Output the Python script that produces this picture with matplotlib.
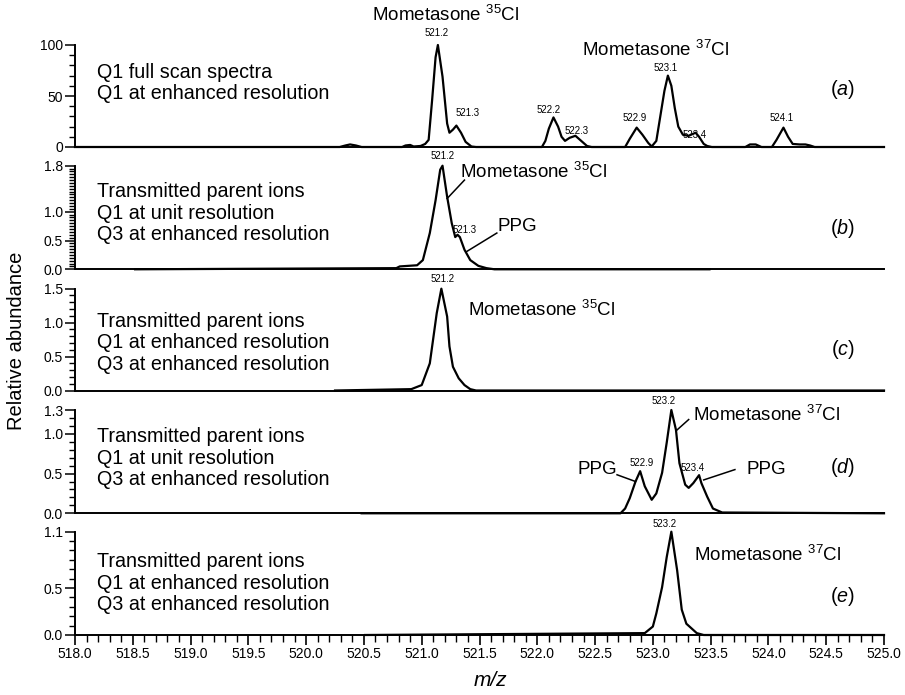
import matplotlib
matplotlib.use("Agg")
import matplotlib.pyplot as plt
from matplotlib.ticker import MultipleLocator, FixedLocator, FormatStrFormatter

plt.rcParams['font.family'] = ['Liberation Sans', 'DejaVu Sans']
plt.rcParams['mathtext.fontset'] = 'custom'
plt.rcParams['mathtext.rm'] = 'Liberation Sans'
plt.rcParams['mathtext.it'] = 'Liberation Sans:italic'

# ---------------- data (m/z, relative abundance) ----------------
mz_a = [518.00, 520.29, 520.34, 520.38, 520.43, 520.48, 520.83, 520.86, 520.90, 520.93, 520.99,
        521.03, 521.06, 521.09, 521.12, 521.14, 521.18, 521.22, 521.24, 521.27, 521.30, 521.34,
        521.38, 521.43, 521.47, 522.04, 522.07, 522.10, 522.14, 522.18, 522.21, 522.24, 522.28,
        522.33, 522.37, 522.43, 522.47, 522.76, 522.80, 522.86, 522.91, 522.96, 522.99, 523.03,
        523.06, 523.10, 523.13, 523.16, 523.19, 523.22, 523.26, 523.31, 523.37, 523.40, 523.44,
        523.47, 523.51, 523.80, 523.84, 523.89, 523.94, 524.03, 524.07, 524.13, 524.17, 524.21,
        524.27, 524.32, 524.36, 524.40, 525.00]
int_a = [0, 0, 1.5, 2.5, 1.5, 0, 0, 1.5, 2, 0.5, 1,
         3, 7, 46, 88, 100, 69, 23, 14, 17, 21, 14,
         5, 0.5, 0, 0, 6, 18, 29, 20, 10, 6, 9,
         11, 7, 1, 0, 0, 8, 19, 12, 4, 0.5, 6,
         27, 55, 70, 60, 38, 20, 12, 11, 14, 10, 3,
         1, 0, 0, 2.5, 2.5, 0, 0, 7, 19, 10, 3,
         2.5, 2.5, 1.5, 0, 0]

mz_b = [518.52, 520.78, 520.81, 520.96, 521.01, 521.07, 521.12, 521.16, 521.18, 521.22, 521.26,
        521.29, 521.31, 521.33, 521.37, 521.42, 521.49, 521.56, 521.63, 523.49]
int_b = [0, 0.02, 0.05, 0.07, 0.16, 0.63, 1.20, 1.73, 1.80, 1.26, 0.80,
         0.56, 0.60, 0.56, 0.34, 0.16, 0.06, 0.02, 0, 0]

mz_c = [520.25, 520.91, 521.00, 521.07, 521.13, 521.17, 521.22, 521.24, 521.27, 521.32, 521.37,
        521.42, 521.47, 525.00]
int_c = [0, 0.02, 0.08, 0.40, 1.14, 1.50, 1.09, 0.65, 0.35, 0.18, 0.08,
         0.02, 0, 0]

mz_d = [520.48, 522.72, 522.76, 522.80, 522.85, 522.89, 522.93, 522.99, 523.03, 523.08, 523.12,
        523.16, 523.20, 523.23, 523.28, 523.31, 523.35, 523.40, 523.42, 523.47, 523.52, 523.60,
        525.00]
int_d = [0, 0, 0.06, 0.19, 0.40, 0.53, 0.34, 0.17, 0.25, 0.51, 0.89,
         1.30, 1.05, 0.63, 0.36, 0.32, 0.38, 0.48, 0.38, 0.21, 0.06, 0.01,
         0]

mz_e = [520.51, 522.93, 523.00, 523.03, 523.08, 523.12, 523.16, 523.21, 523.25, 523.29, 523.38,
        523.44, 525.00]
int_e = [0, 0.02, 0.09, 0.23, 0.51, 0.83, 1.10, 0.69, 0.27, 0.12, 0.02,
         0, 0]

# peak labels: (text, m/z, abundance)
labels_a = [("521.2", 521.13, 111.8), ("521.3", 521.40, 33.3), ("522.2", 522.10, 36.3),
            ("522.3", 522.34, 16.0), ("522.9", 522.84, 28.4), ("523.1", 523.11, 77.5),
            ("523.4", 523.36, 11.8), ("524.1", 524.11, 28.4)]
labels_b = [("521.2", 521.18, 1.96), ("521.3", 521.37, 0.68)]
labels_c = [("521.2", 521.18, 1.64)]
labels_d = [("523.2", 523.09, 1.41), ("522.9", 522.90, 0.63), ("523.4", 523.34, 0.57)]
labels_e = [("523.2", 523.10, 1.18)]

desc = [["Q1 full scan spectra", "Q1 at enhanced resolution"],
        ["Transmitted parent ions", "Q1 at unit resolution", "Q3 at enhanced resolution"],
        ["Transmitted parent ions", "Q1 at enhanced resolution", "Q3 at enhanced resolution"],
        ["Transmitted parent ions", "Q1 at unit resolution", "Q3 at enhanced resolution"],
        ["Transmitted parent ions", "Q1 at enhanced resolution", "Q3 at enhanced resolution"]]
panel_tags = ["a", "b", "c", "d", "e"]
ymax = [100, 1.8, 1.5, 1.3, 1.1]
ymajor = [[0, 50, 100], [0.0, 0.5, 1.0, 1.8], [0.0, 0.5, 1.0, 1.5],
          [0.0, 0.5, 1.0, 1.3], [0.0, 0.5, 1.1]]
yminor = [10, 0.05, 0.1, 0.1, 0.1]
yfmt = ['%d', '%.1f', '%.1f', '%.1f', '%.1f']

# ---------------- layout ----------------
W, H = 905, 695
fig = plt.figure(figsize=(W / 100, H / 100), dpi=100)
left_px, right_px = 75, 884
panels_px = [(45, 147), (165.7, 269.3), (288.7, 390.5), (410, 513.3), (531.7, 635)]
desc_y = [0.627, 0.543, 0.467, 0.535, 0.503]
tag_y = [0.559, 0.389, 0.398, 0.448, 0.368]
FS_DESC = 14.2
FS_ANN = 13.5

series = [(mz_a, int_a, labels_a), (mz_b, int_b, labels_b), (mz_c, int_c, labels_c),
          (mz_d, int_d, labels_d), (mz_e, int_e, labels_e)]

axes = []
for i, ((top, bot), (mz, inten, labs)) in enumerate(zip(panels_px, series)):
    ax = fig.add_axes([left_px / W, 1 - bot / H, (right_px - left_px) / W, (bot - top) / H])
    axes.append(ax)
    ax.plot(mz, inten, color='black', lw=1.6, clip_on=False)
    ax.set_xlim(518.0, 525.0)
    ax.set_ylim(0, ymax[i])
    for s in ['top', 'right']:
        ax.spines[s].set_visible(False)
    for s in ['left', 'bottom']:
        ax.spines[s].set_linewidth(1.4)
    ax.yaxis.set_major_locator(FixedLocator(ymajor[i]))
    ax.yaxis.set_minor_locator(MultipleLocator(yminor[i]))
    ax.yaxis.set_major_formatter(FormatStrFormatter(yfmt[i]))
    ax.tick_params(axis='y', which='major', direction='out', length=7, width=1.1,
                   labelsize=10, pad=1.5)
    ax.tick_params(axis='y', which='minor', direction='out', length=4, width=1.0)
    if i < 4:
        ax.tick_params(axis='x', which='both', bottom=False, labelbottom=False)
    else:
        ax.xaxis.set_major_locator(MultipleLocator(0.5))
        ax.xaxis.set_minor_locator(MultipleLocator(0.1))
        ax.xaxis.set_major_formatter(FormatStrFormatter('%.1f'))
        ax.tick_params(axis='x', which='major', direction='out', length=7, width=1.2,
                       labelsize=10, pad=2)
        ax.tick_params(axis='x', which='minor', direction='out', length=5, width=1.0)
    ax.patch.set_alpha(0)
    for t, x, y in labs:
        ax.text(x, y, t, fontsize=7, ha='center', va='center', clip_on=False)
    ax.text(0.027, desc_y[i], "\n".join(desc[i]), transform=ax.transAxes,
            fontsize=FS_DESC, ha='left', va='center', linespacing=1.15)
    ax.text(0.949, tag_y[i], r"($\mathit{%s}$)" % panel_tags[i], transform=ax.transAxes,
            fontsize=FS_DESC, ha='center', va='center')

m35 = r"Mometasone $^{\mathregular{35}}$Cl"
m37 = r"Mometasone $^{\mathregular{37}}$Cl"
axA, axB, axC, axD, axE = axes
axA.text(521.21, 129, m35, fontsize=FS_ANN, ha='center', va='center', clip_on=False)
axA.text(523.02, 95, m37, fontsize=FS_ANN, ha='center', va='center')

axB.text(521.33, 1.70, m35, fontsize=FS_ANN, ha='left', va='center')
axB.plot([521.37, 521.22], [1.55, 1.23], color='black', lw=1.1)
axB.text(521.66, 0.74, "PPG", fontsize=FS_ANN, ha='left', va='center')
axB.plot([521.65, 521.39], [0.63, 0.31], color='black', lw=1.1)

axC.text(521.40, 1.18, m35, fontsize=FS_ANN, ha='left', va='center')

axD.text(523.35, 1.24, m37, fontsize=FS_ANN, ha='left', va='center')
axD.plot([523.31, 523.21], [1.18, 1.05], color='black', lw=1.1)
axD.text(522.69, 0.55, "PPG", fontsize=FS_ANN, ha='right', va='center')
axD.plot([522.69, 522.85], [0.485, 0.40], color='black', lw=1.1)
axD.text(523.81, 0.55, "PPG", fontsize=FS_ANN, ha='left', va='center')
axD.plot([523.71, 523.44], [0.55, 0.42], color='black', lw=1.1)

axE.text(523.36, 0.85, m37, fontsize=FS_ANN, ha='left', va='center')

fig.text(17 / W, 1 - 341 / H, "Relative abundance", rotation=90, fontsize=14.5,
         ha='center', va='center')
fig.text(490 / W, 1 - 680 / H, "m/z", fontsize=15, style='italic', ha='center', va='center')

fig.savefig("out.png", dpi=100)
